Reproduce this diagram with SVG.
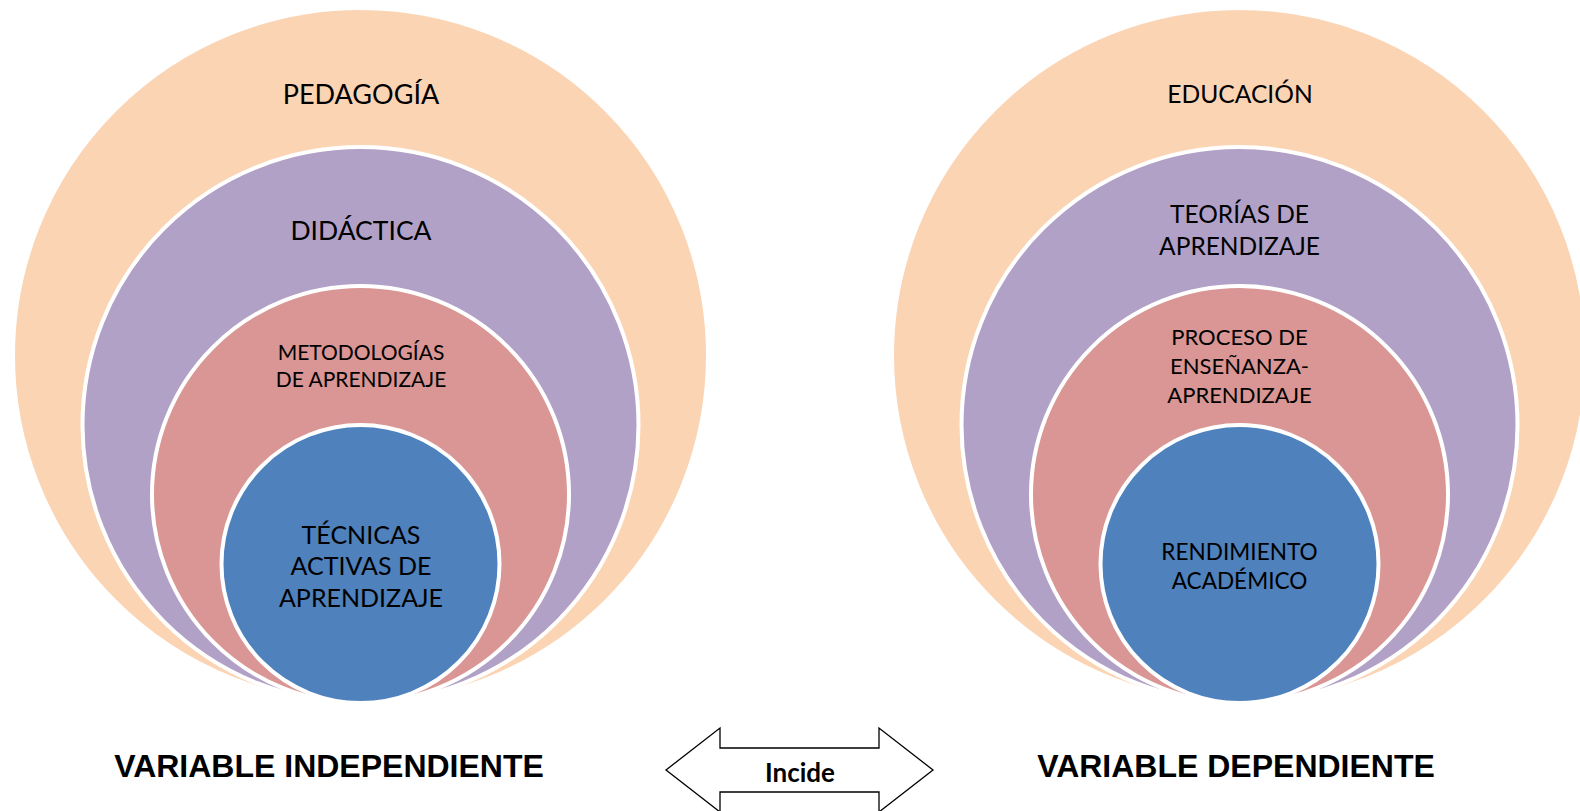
<svg xmlns="http://www.w3.org/2000/svg" width="1580" height="811" viewBox="0 0 1580 811">
<style>
.c{stroke:#ffffff;stroke-width:4}
.peach{fill:#FBD4B4}
.purple{fill:#B2A1C7}
.pink{fill:#D99694}
.blue{fill:#4F81BD}
.t{font-family:Lato,"Open Sans","Liberation Sans",sans-serif;fill:#000000;text-anchor:middle}
.lbl{font-family:"Liberation Sans",Arial,sans-serif;font-weight:bold;font-size:32px;fill:#000000;text-anchor:middle}
.arrow{fill:#ffffff;stroke:#000000;stroke-width:1.3}
</style>
<rect width="1580" height="811" fill="#ffffff"/>
<g id="left">
  <g id="pedagogia"><circle class="c peach" cx="360.5" cy="355.5" r="347.5"/><text class="t" x="361" y="103.5" font-size="27">PEDAGOGÍA</text></g>
  <g id="didactica"><circle class="c purple" cx="360.5" cy="425" r="278"/><text class="t" x="361" y="239.5" font-size="26.5">DIDÁCTICA</text></g>
  <g id="metodologias"><circle class="c pink" cx="360.5" cy="494.5" r="208.5"/><text class="t" x="361" y="360" font-size="21">METODOLOGÍAS</text><text class="t" x="361" y="386.5" font-size="21">DE APRENDIZAJE</text></g>
  <g id="tecnicas"><circle class="c blue" cx="360.5" cy="564" r="139"/><text class="t" x="361" y="543.5" font-size="25">TÉCNICAS</text><text class="t" x="361" y="575" font-size="25">ACTIVAS DE</text><text class="t" x="361" y="606.5" font-size="25">APRENDIZAJE</text></g>
</g>
<g id="right">
  <g id="educacion"><circle class="c peach" cx="1239.5" cy="355.5" r="347.5"/><text class="t" x="1240" y="102.5" font-size="24.6">EDUCACIÓN</text></g>
  <g id="teorias"><circle class="c purple" cx="1239.5" cy="425" r="278"/><text class="t" x="1239.5" y="223" font-size="24.5">TEORÍAS DE</text><text class="t" x="1239.5" y="255" font-size="24.5">APRENDIZAJE</text></g>
  <g id="proceso"><circle class="c pink" cx="1239.5" cy="494.5" r="208.5"/><text class="t" x="1239.5" y="344.5" font-size="22">PROCESO DE</text><text class="t" x="1239.5" y="374" font-size="22">ENSEÑANZA-</text><text class="t" x="1239.5" y="403" font-size="22">APRENDIZAJE</text></g>
  <g id="rendimiento"><circle class="c blue" cx="1239.5" cy="564" r="139"/><text class="t" x="1239.5" y="560" font-size="22.6">RENDIMIENTO</text><text class="t" x="1239.5" y="589" font-size="22.6">ACADÉMICO</text></g>
</g>
<g id="label-independiente"><text class="lbl" x="329" y="777">VARIABLE INDEPENDIENTE</text></g>
<g id="label-dependiente"><text class="lbl" x="1236" y="777">VARIABLE DEPENDIENTE</text></g>
<g id="connectors">
  <polygon class="arrow" points="666,770 720,728 720,748 879,748 879,728 933,770 879,812 879,792 720,792 720,812"/>
  <text class="t" x="800" y="782" font-size="26" font-weight="bold">Incide</text>
</g>
</svg>
